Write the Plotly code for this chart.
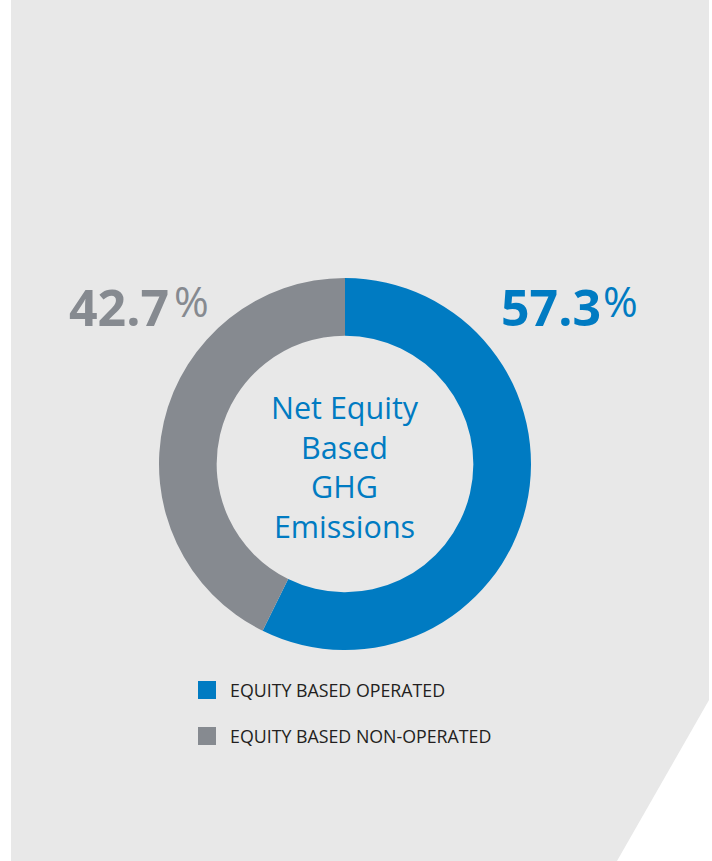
import plotly.graph_objects as go

labels = ["EQUITY BASED OPERATED", "EQUITY BASED NON-OPERATED"]
values = [57.3, 42.7]
colors = ["#007bc2", "#868a90"]
center_title = "Net Equity<br>Based<br>GHG<br>Emissions"

W, H = 712, 861
BG = "#e8e8e8"

fig = go.Figure(go.Pie(
    labels=labels,
    values=values,
    hole=0.69,
    sort=False,
    direction="clockwise",
    rotation=0,
    marker=dict(colors=colors, line=dict(width=0)),
    textinfo="none",
    hoverinfo="label+percent",
    showlegend=False,
    domain=dict(x=[159 / W, 531 / W], y=[(H - 650) / H, (H - 278) / H]),
))

# gray panel with the cut corner
fig.add_shape(
    type="path", xref="paper", yref="paper", layer="below",
    path=f"M {11/W} 0 L {617/W} 0 L {709/W} {(H-700)/H} L {709/W} 1 L {11/W} 1 Z",
    fillcolor=BG, line=dict(width=0),
)

fig.add_annotation(
    x=345 / W, y=(H - 466) / H, xref="paper", yref="paper", yanchor="middle",
    text=center_title, showarrow=False, align="center",
    font=dict(family="Open Sans", size=30.5, color=colors[0]),
)

# percentage callouts: number plus a raised "%" sign
callouts = [  # (value index, number edge, anchor, % left edge)
    (1, 67, "left", 172),
    (0, 603, "right", 601),
]
for idx, xn, anchor, xp in callouts:
    fig.add_annotation(
        x=xn / W, y=(H - 307) / H, xref="paper", yref="paper",
        xanchor=anchor, yanchor="middle",
        text=f"<b>{values[idx]}</b>", showarrow=False,
        font=dict(family="Open Sans", size=50, color=colors[idx]),
    )
    fig.add_annotation(
        x=xp / W, y=(H - 300) / H, xref="paper", yref="paper",
        xanchor="left", yanchor="middle",
        text="%", showarrow=False,
        font=dict(family="Open Sans", size=42, color=colors[idx]),
    )

# legend
for i, (lab, col) in enumerate(zip(labels, colors)):
    yc = 690 + i * 46
    fig.add_shape(
        type="rect", xref="paper", yref="paper",
        x0=198 / W, x1=216 / W, y0=(H - yc - 9) / H, y1=(H - yc + 9) / H,
        fillcolor=col, line=dict(width=0),
    )
    fig.add_annotation(
        x=228 / W, y=(H - yc) / H, xref="paper", yref="paper",
        xanchor="left", yanchor="middle",
        text=lab, showarrow=False,
        font=dict(family="Open Sans", size=17.8, color="#231f20"),
    )

fig.update_layout(
    width=W, height=H,
    margin=dict(l=0, r=0, t=0, b=0),
    paper_bgcolor="white",
    plot_bgcolor="white",
)

fig.write_html("out.html", config={"displayModeBar": False},
               post_script="document.body.style.margin='0';")
